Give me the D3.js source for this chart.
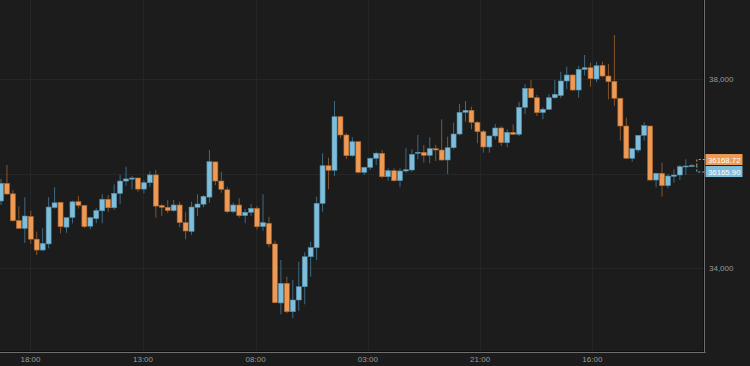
<!DOCTYPE html>
<html lang="en">
<head>
<meta charset="UTF-8">
<title>candles</title>
<script src="https://cdn.jsdelivr.net/npm/d3@7"></script>
<style>
  html, body { margin: 0; padding: 0; background: #1c1c1c; }
  svg { display: block; font-family: "Liberation Sans", Arial, sans-serif; }
  .grid line { stroke: #262626; stroke-width: 1; }
  .lbl { fill: #9a9a9a; font-size: 8px; }
  .tag { fill: #fff; font-size: 7.8px; }
</style>
</head>
<body>
<script>
// candle data, one entry per bar (oldest first)
const opens = [35418,35790,35570,35005,34840,35090,34610,34380,34510,35280,35390,34865,35070,35405,35325,34885,35045,35210,35455,35275,
  35580,35840,35880,35905,35670,35805,35970,35320,35285,35215,35333,34960,34775,35285,35350,35500,36245,35841,35655,35192,
  35333,35110,35179,35263,34880,34946,34508,33260,33676,33075,33323,33604,34239,34430,35369,36165,36068,37202,36815,36377,
  36673,36025,36131,36322,36428,35932,36059,35848,36053,36074,36428,36449,36385,36525,36497,36286,36546,36836,37295,37338,
  37084,36885,36561,36794,36963,36652,36872,36830,37401,37803,37604,37290,37359,37604,37650,37958,38085,37767,38205,38239,
  38000,38290,38063,37950,37592,37005,36322,36497,36808,37005,35862,36004,35742,35940,35968,36150,36160];
const highs = [35884,36180,35650,35310,35500,35210,34770,34840,35500,35710,35400,35070,35425,35525,35330,35085,35265,35560,35545,35770,
  35970,36145,35945,35910,35860,36045,36075,35355,35440,35440,35403,35190,35403,35560,35545,36500,36250,36038,35721,35382,
  35475,35249,35354,35312,35560,35086,34578,34169,33816,33746,34133,34332,34557,35509,36428,36334,37534,37220,36851,36766,
  36680,36144,36334,36461,36497,36110,36110,36110,36533,36512,36815,36603,36766,36603,37147,36779,37075,37471,37534,37414,
  37111,36921,36800,37048,37005,36935,37041,37520,37888,37979,37661,37401,37676,37979,38154,38260,38099,38275,38508,38345,
  38366,38366,38317,38931,37600,37181,36530,36815,37084,37012,36017,36229,35990,36089,36180,36300,36200];
const lows = [35333,35545,34980,34825,34530,34510,34275,34365,34415,35255,34735,34745,34945,35260,34840,34820,34945,34945,35190,35230,
  35355,35740,35665,35615,35580,35720,35065,35105,35160,35190,34860,34607,34700,35100,35285,35382,35757,35594,35158,35158,
  35065,34946,35101,34819,34789,34438,33253,33020,33041,32935,33096,33232,33816,34169,35192,35666,35947,36745,36307,36356,
  36004,35968,36074,36180,35898,35848,35826,35708,36017,36038,36301,36229,36216,36265,36265,35990,36512,36808,37096,36935,
  36639,36440,36440,36724,36582,36555,36815,36794,37259,37592,37217,37147,37344,37577,37598,37782,37746,37604,38070,37837,
  37930,38036,37570,37429,36694,36315,36250,36440,36694,35841,35708,35509,35687,35805,35862,35968,36140];
const closes = [35793,35566,35000,34840,35100,34610,34380,34520,35290,35380,34875,35065,35400,35325,34875,35065,35215,35455,35275,35580,
  35840,35885,35905,35670,35805,35970,35310,35285,35215,35333,34960,34783,35290,35354,35517,36250,35841,35666,35192,35333,
  35107,35179,35263,34874,34959,34508,33266,33676,33075,33323,33604,34239,34430,35369,36165,36068,37202,36815,36377,36673,
  36025,36131,36322,36428,35932,36059,35848,36053,36080,36406,36449,36385,36525,36497,36286,36546,36836,37295,37338,37084,
  36885,36561,36794,36963,36652,36872,36830,37401,37803,37604,37287,37359,37604,37676,37958,38085,37767,38205,38239,38006,
  38281,38063,37943,37592,37005,36322,36525,36808,37012,35862,36004,35742,35947,35968,36144,36159,36168.72];

// time axis: label text and bar position (fractional bar index)
const timeLabels = ["18:00","13:00","08:00","03:00","21:00","16:00"];
const timeAt = [4.95,23.85,42.75,61.6,80.45,99.3];
const priceTicks = [34000,36000,38000];
const lastPrices = [36168.72,36165.90];

const W = 750, H = 366;
const plotR = 705, plotB = 352;
const upFill = "#7fbedb", upLine = "#4f8aa6", upWick = "#3f6a80";
const dnFill = "#ee9a55", dnLine = "#a8652e", dnWick = "#855629";

const svg = d3.select("body").append("svg").attr("width", W).attr("height", H);

const x = d3.scaleLinear().domain([0, opens.length - 1]).range([1, 691.8]);
const y = d3.scaleLinear().domain([34000, 38000]).range([268, 79]);

const bars = opens.map((o, i) => ({o: o, h: highs[i], l: lows[i], c: closes[i], i: i}));

// grid
const grid = svg.append("g").attr("class", "grid");
grid.selectAll(".v").data(timeAt).enter().append("line")
  .attr("x1", d => Math.round(x(d)) + 0.5).attr("x2", d => Math.round(x(d)) + 0.5)
  .attr("y1", 0).attr("y2", plotB);
grid.selectAll(".h").data(priceTicks).enter().append("line")
  .attr("x1", 0).attr("x2", plotR)
  .attr("y1", d => Math.round(y(d)) + 0.5).attr("y2", d => Math.round(y(d)) + 0.5);

// candles
const g = svg.append("g");
const candle = g.selectAll("g.c").data(bars).enter().append("g").attr("class", "c");
candle.append("line")
  .attr("x1", d => x(d.i)).attr("x2", d => x(d.i))
  .attr("y1", d => y(d.h)).attr("y2", d => y(d.l))
  .attr("stroke", d => d.c >= d.o ? upWick : dnWick).attr("stroke-width", 1);
candle.append("rect")
  .attr("x", d => x(d.i) - 2.5).attr("width", 5)
  .attr("y", d => y(Math.max(d.o, d.c)))
  .attr("height", d => Math.max(1, Math.abs(y(d.o) - y(d.c))))
  .attr("fill", d => d.c >= d.o ? upFill : dnFill)
  .attr("stroke", d => d.c >= d.o ? upLine : dnLine).attr("stroke-width", 0.6);

// plot frame
svg.append("line").attr("x1", 0).attr("x2", plotR).attr("y1", plotB - 0.5).attr("y2", plotB - 0.5).attr("stroke", "#0d0d0d");
svg.append("line").attr("x1", plotR - 1.5).attr("x2", plotR - 1.5).attr("y1", 0).attr("y2", plotB).attr("stroke", "#0d0d0d");
svg.append("line").attr("x1", 0).attr("x2", plotR + 0.5).attr("y1", plotB + 0.5).attr("y2", plotB + 0.5).attr("stroke", "#6e6e6e");
svg.append("line").attr("x1", plotR - 0.5).attr("x2", plotR - 0.5).attr("y1", 0).attr("y2", plotB + 1).attr("stroke", "#6e6e6e");

// last price position, tags sit above / below it
const ly = y(lastPrices[0]);
const lx = x(opens.length - 1) + 5;

// axes labels (price labels hidden behind the last-price tags are skipped)
svg.selectAll(".py").data(priceTicks.filter(d => Math.abs(y(d) - ly) > 16)).enter().append("text")
  .attr("class", "lbl").attr("x", 709).attr("y", d => y(d) + 3)
  .text(d => d3.format(",")(d));
svg.selectAll(".tx").data(timeAt).enter().append("text")
  .attr("class", "lbl").attr("text-anchor", "middle")
  .attr("x", (d) => x(d)).attr("y", 362)
  .text((d, i) => timeLabels[i]);

svg.append("path").attr("d", `M${lx},${ly}V${ly - 6}H${plotR}`)
  .attr("fill", "none").attr("stroke", dnFill).attr("stroke-dasharray", "2,2");
svg.append("path").attr("d", `M${lx},${ly}V${ly + 6.5}H${plotR}`)
  .attr("fill", "none").attr("stroke", upFill).attr("stroke-dasharray", "2,2");

const tags = [{v: lastPrices[0], top: ly - 11.5, col: dnFill}, {v: lastPrices[1], top: ly + 0.5, col: upFill}];
tags.forEach(t => {
  svg.append("rect").attr("x", plotR + 0.5).attr("y", t.top).attr("width", 37).attr("height", 11).attr("fill", t.col);
  svg.append("text").attr("class", "tag").attr("x", plotR + 3).attr("y", t.top + 8.5).text(d3.format(".2f")(t.v));
});
</script>
</body>
</html>
